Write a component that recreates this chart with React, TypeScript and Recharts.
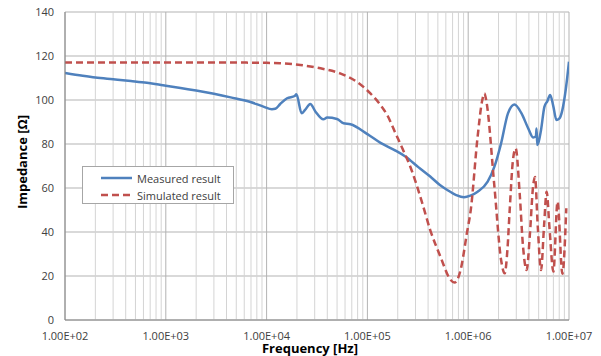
import React from 'react';
import { LineChart, Line, XAxis, YAxis, CartesianGrid, ReferenceLine, Legend, Label } from 'recharts';

// measured impedance, frequency in Hz
const measuredFreq = [
  100, 150, 200, 300, 450, 650, 900, 1000, 1400, 2000, 3000, 4400, 6800, 9300,
  11300, 12200, 13650, 15960, 18990, 19760, 22250, 24070, 27130, 30560, 36620,
  39800, 49900, 58000, 67900, 100000, 135000, 190000, 240000,
  320000, 420000, 520000, 620000, 760000, 910000, 1050000, 1240000, 1560000,
  1820000, 2120000, 2480000, 2880000, 3370000, 3940000, 4400000, 4700000,
  4760000, 4850000, 5000000, 5280000, 5700000, 6100000, 6500000, 7000000,
  7500000, 8000000, 8600000, 9300000, 10000000,
];
const measuredImp = [
  112.3, 111, 110.2, 109.4, 108.6, 107.8, 106.8, 106.5, 105.5, 104.3, 102.8, 101.2, 99.2, 97,
  95.8, 96, 98.2, 100.8, 101.8, 102.6, 94, 95.5, 98.2, 94.7, 91.2,
  92, 91.4, 89.4, 89, 84.5, 80.5, 77, 74.2,
  69.5, 65.2, 61.5, 59.1, 56.8, 55.8, 56.5, 58.3, 62.9,
  69.7, 80.3, 93.9, 98, 94, 87.1, 83, 83.5,
  87, 79.5, 81, 86.4, 96.9, 99.5, 102.3, 97,
  90.9, 91.5, 95.5, 105, 117.4,
];

// simulated impedance
const simulatedFreq = [
  100, 1000, 5000, 10000, 13600, 21600, 34300, 53600, 78500, 107000, 135000,
  160000, 187000, 226000, 274000, 343000, 420000, 530000, 670000, 730000, 840000,
  970000, 1060000, 1240000, 1380000, 1450000, 1520000, 1820000, 2120000,
  2300000, 2450000, 2580000, 2780000, 2960000, 3240000, 3500000, 3800000,
  4100000, 4400000, 4600000, 4900000, 5280000, 5650000, 6000000, 6400000,
  7000000, 7700000, 8600000, 9400000,
];
const simulatedImp = [
  117, 117, 117, 116.9, 116.7, 115.9, 114.4, 112.1, 108.3, 103, 97.7,
  92.5, 85.6, 77.3, 68.2, 54.5, 40.9, 28.8, 18.2, 17, 22.7,
  39.4, 50, 83.3, 100, 103, 99, 60.6, 27.3,
  21.2, 32, 50, 72.7, 78, 57.6, 33.3, 22.7,
  39.5, 60.6, 65, 42.4, 22.7, 42.4, 58.3, 42,
  22, 53.8, 21, 50.8,
];

const decades = [1e2, 1e3, 1e4, 1e5, 1e6, 1e7];
const minorTicks = decades.slice(0, -1).flatMap((d) => [2, 3, 4, 5, 6, 7, 8, 9].map((k) => k * d));
const yTicks = [0, 20, 40, 60, 80, 100, 120, 140];

const measuredData = measuredFreq.map((f, i) => ({ f, v: measuredImp[i] }));
const simulatedData = simulatedFreq.map((f, i) => ({ f, v: simulatedImp[i] }));

const font = '"Open Sans", sans-serif';

function sciLabel(v: number) {
  const exp = Math.round(Math.log10(v));
  const mant = v / Math.pow(10, exp);
  return `${mant.toFixed(2)}E+${String(exp).padStart(2, '0')}`;
}

function LegendBox({ payload }: any) {
  return (
    <div
      style={{
        border: '1px solid #a6a6a6',
        background: '#fff',
        width: 152,
        height: 38,
        boxSizing: 'border-box',
        fontFamily: font,
        fontSize: 11,
        color: '#404040',
        paddingTop: 2,
      }}
    >
      {(payload || []).map((p: any) => (
        <div key={p.value} style={{ display: 'flex', alignItems: 'center', height: 16, marginTop: 1 }}>
          <svg width={54} height={6}>
            <line
              x1={18}
              x2={49}
              y1={3}
              y2={3}
              stroke={p.color}
              strokeWidth={2.5}
              strokeDasharray={p.payload?.strokeDasharray}
            />
          </svg>
          <span>{p.value}</span>
        </div>
      ))}
    </div>
  );
}

export default function App() {
  return (
    <div style={{ position: 'absolute', left: 0, top: 0 }}>
      <LineChart width={601} height={356} margin={{ top: 12, right: 32, bottom: 0, left: 25 }}>
        <CartesianGrid vertical={false} stroke="#b3b3b3" />
        {minorTicks.map((t) => (
          <ReferenceLine key={t} x={t} stroke="#d4d4d4" strokeWidth={1} />
        ))}
        {decades.map((t) => (
          <ReferenceLine key={t} x={t} stroke="#b3b3b3" strokeWidth={1} />
        ))}
        <XAxis
          dataKey="f"
          type="number"
          scale="log"
          domain={[100, 1e7]}
          ticks={decades}
          allowDataOverflow
          tickFormatter={sciLabel}
          tickLine={false}
          tickSize={0}
          tickMargin={12}
          height={36}
          stroke="#868686"
          tick={{ fill: '#404040', fontSize: 11, fontFamily: font }}
        >
          <Label
            content={() => (
              <text
                x={310}
                y={348}
                textAnchor="middle"
                dominantBaseline="central"
                style={{ fontFamily: font, fontSize: 13, fontWeight: 'bold', fill: '#000' }}
              >
                Frequency [Hz]
              </text>
            )}
          />
        </XAxis>
        <YAxis
          type="number"
          domain={[0, 140]}
          ticks={yTicks}
          width={40}
          tickLine={false}
          tickSize={0}
          tickMargin={11}
          stroke="#868686"
          tick={{ fill: '#404040', fontSize: 11, fontFamily: font }}
        >
          <Label
            content={() => (
              <text
                x={22}
                y={162}
                transform="rotate(-90 22 162)"
                textAnchor="middle"
                dominantBaseline="central"
                style={{ fontFamily: font, fontSize: 13, fontWeight: 'bold', fill: '#000' }}
              >
                Impedance [Ω]
              </text>
            )}
          />
        </YAxis>
        <Legend
          layout="vertical"
          align="center"
          verticalAlign="middle"
          content={<LegendBox />}
          wrapperStyle={{ position: 'absolute', left: 82, top: 166, width: 152, height: 38 }}
        />
        <Line
          data={measuredData}
          dataKey="v"
          name="Measured result"
          type="monotone"
          stroke="#4F81BD"
          strokeWidth={2.5}
          dot={false}
          isAnimationActive={false}
        />
        <Line
          data={simulatedData}
          dataKey="v"
          name="Simulated result"
          type="monotone"
          stroke="#C0504D"
          strokeWidth={2.5}
          strokeDasharray="7 4"
          dot={false}
          isAnimationActive={false}
        />
      </LineChart>
    </div>
  );
}
